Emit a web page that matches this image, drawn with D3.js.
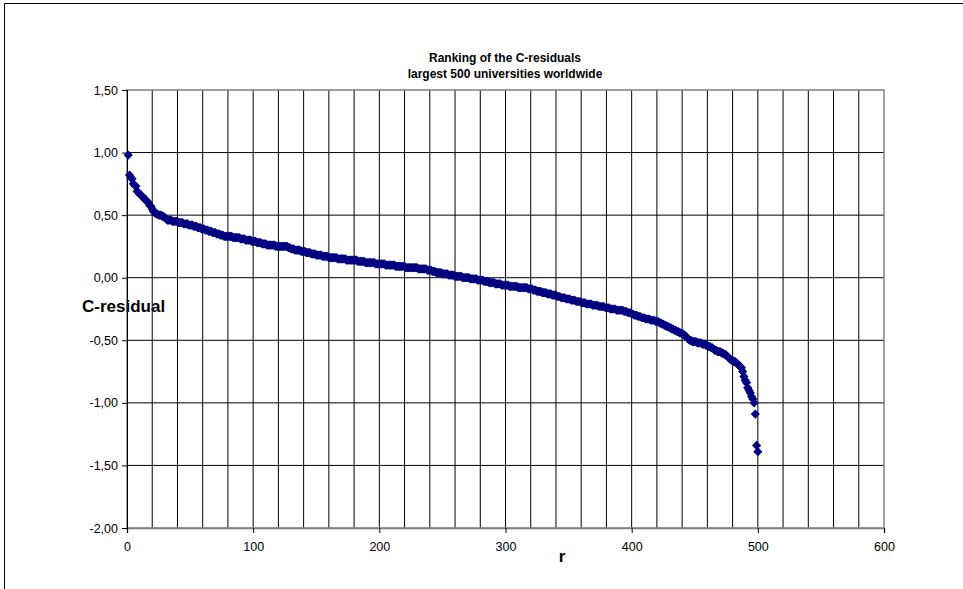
<!DOCTYPE html>
<html>
<head>
<meta charset="utf-8">
<script src="https://cdn.jsdelivr.net/npm/d3@7"></script>
<style>
  body { margin: 0; background: #fff; }
  text { font-family: Arial, "Liberation Sans", sans-serif; }
</style>
</head>
<body>
<div id="chart"></div>
<script>
// chart texts
var titleLines = ["Ranking of the C-residuals", "largest 500 universities worldwide"];
var xLabel = "r";
var yLabel = "C-residual";

// tick values
var xTicks = [0, 100, 200, 300, 400, 500, 600];
var yTicks = [-2, -1.5, -1, -0.5, 0, 0.5, 1, 1.5];

// C-residual for rank r = 1..500
var residuals = [
  0.98, 0.82, 0.80, 0.79, 0.75, 0.74, 0.73, 0.69, 0.68, 0.67, 0.66, 0.65, 0.64, 0.63, 0.62, 0.61, 0.60, 0.58, 0.57, 0.55,
  0.53, 0.52, 0.51, 0.51, 0.50, 0.50, 0.50, 0.49, 0.49, 0.48, 0.47, 0.46, 0.46, 0.46, 0.46, 0.45, 0.45, 0.45, 0.45, 0.45,
  0.44, 0.44, 0.44, 0.44, 0.43, 0.43, 0.43, 0.43, 0.42, 0.42, 0.42, 0.42, 0.41, 0.41, 0.41, 0.40, 0.40, 0.40, 0.39, 0.39,
  0.39, 0.38, 0.38, 0.38, 0.37, 0.37, 0.37, 0.36, 0.36, 0.36, 0.35, 0.35, 0.35, 0.34, 0.34, 0.34, 0.33, 0.33, 0.33, 0.33,
  0.33, 0.33, 0.33, 0.32, 0.32, 0.32, 0.32, 0.32, 0.32, 0.31, 0.31, 0.31, 0.31, 0.30, 0.30, 0.30, 0.30, 0.30, 0.29, 0.29,
  0.29, 0.29, 0.28, 0.28, 0.28, 0.28, 0.27, 0.27, 0.27, 0.27, 0.26, 0.26, 0.26, 0.26, 0.26, 0.26, 0.26, 0.25, 0.25, 0.25,
  0.25, 0.25, 0.25, 0.25, 0.25, 0.25, 0.25, 0.24, 0.24, 0.23, 0.23, 0.23, 0.22, 0.22, 0.22, 0.22, 0.22, 0.21, 0.21, 0.21,
  0.21, 0.20, 0.20, 0.20, 0.20, 0.19, 0.19, 0.19, 0.19, 0.18, 0.18, 0.18, 0.18, 0.18, 0.17, 0.17, 0.17, 0.17, 0.17, 0.16,
  0.16, 0.16, 0.16, 0.16, 0.16, 0.16, 0.15, 0.15, 0.15, 0.15, 0.15, 0.15, 0.15, 0.14, 0.14, 0.14, 0.14, 0.14, 0.14, 0.14,
  0.14, 0.14, 0.13, 0.13, 0.13, 0.13, 0.13, 0.13, 0.12, 0.12, 0.12, 0.12, 0.12, 0.12, 0.12, 0.12, 0.11, 0.11, 0.11, 0.11,
  0.11, 0.11, 0.11, 0.11, 0.10, 0.10, 0.10, 0.10, 0.10, 0.10, 0.10, 0.10, 0.09, 0.09, 0.09, 0.09, 0.09, 0.09, 0.09, 0.09,
  0.08, 0.08, 0.08, 0.08, 0.08, 0.08, 0.08, 0.08, 0.08, 0.08, 0.07, 0.07, 0.07, 0.07, 0.07, 0.07, 0.07, 0.06, 0.06, 0.06,
  0.06, 0.05, 0.05, 0.05, 0.04, 0.04, 0.04, 0.04, 0.04, 0.03, 0.03, 0.03, 0.03, 0.03, 0.02, 0.02, 0.02, 0.02, 0.02, 0.01,
  0.01, 0.01, 0.01, 0.01, 0.01, 0.00, 0.00, 0.00, 0.00, 0.00, 0.00, -0.01, -0.01, -0.01, -0.01, -0.01, -0.01, -0.02, -0.02, -0.02,
  -0.02, -0.02, -0.03, -0.03, -0.03, -0.03, -0.04, -0.04, -0.04, -0.04, -0.04, -0.05, -0.05, -0.05, -0.05, -0.05, -0.06, -0.06, -0.06, -0.06,
  -0.06, -0.06, -0.07, -0.07, -0.07, -0.07, -0.07, -0.07, -0.07, -0.08, -0.08, -0.08, -0.08, -0.08, -0.08, -0.08, -0.08, -0.09, -0.09, -0.09,
  -0.09, -0.10, -0.10, -0.10, -0.11, -0.11, -0.11, -0.11, -0.12, -0.12, -0.12, -0.12, -0.13, -0.13, -0.13, -0.13, -0.14, -0.14, -0.14, -0.14,
  -0.15, -0.15, -0.15, -0.16, -0.16, -0.16, -0.16, -0.17, -0.17, -0.17, -0.17, -0.18, -0.18, -0.18, -0.18, -0.19, -0.19, -0.19, -0.19, -0.20,
  -0.20, -0.20, -0.20, -0.21, -0.21, -0.21, -0.21, -0.21, -0.22, -0.22, -0.22, -0.22, -0.22, -0.23, -0.23, -0.23, -0.23, -0.23, -0.24, -0.24,
  -0.24, -0.24, -0.25, -0.25, -0.25, -0.25, -0.25, -0.26, -0.26, -0.26, -0.26, -0.26, -0.26, -0.27, -0.27, -0.27, -0.28, -0.28, -0.28, -0.29,
  -0.29, -0.30, -0.30, -0.30, -0.31, -0.31, -0.31, -0.32, -0.32, -0.32, -0.33, -0.33, -0.33, -0.33, -0.34, -0.34, -0.34, -0.34, -0.35, -0.35,
  -0.35, -0.36, -0.36, -0.37, -0.37, -0.38, -0.38, -0.39, -0.39, -0.40, -0.40, -0.41, -0.41, -0.42, -0.42, -0.43, -0.43, -0.44, -0.44, -0.45,
  -0.45, -0.46, -0.47, -0.48, -0.49, -0.50, -0.50, -0.51, -0.51, -0.51, -0.51, -0.52, -0.52, -0.52, -0.52, -0.53, -0.53, -0.53, -0.54, -0.54,
  -0.55, -0.55, -0.56, -0.56, -0.57, -0.58, -0.58, -0.59, -0.59, -0.59, -0.60, -0.60, -0.61, -0.61, -0.62, -0.63, -0.64, -0.65, -0.66, -0.66,
  -0.67, -0.67, -0.68, -0.69, -0.70, -0.71, -0.72, -0.75, -0.79, -0.82, -0.84, -0.88, -0.90, -0.92, -0.95, -0.97, -1.00, -1.09, -1.34, -1.39
];

// size and margins, plot area is 127..884 x 90..528
var W = 963, H = 589;
var margin = {top: 90, right: 79, bottom: 61, left: 127},
    width = W - margin.left - margin.right,
    height = H - margin.top - margin.bottom;

var svg = d3.select("#chart").append("svg")
    .attr("width", W)
    .attr("height", H);

// outer chart frame (cut by the picture on the right and bottom)
svg.append("path")
    .attr("d", "M4.5," + H + "V3.5H" + W)
    .attr("fill", "none")
    .attr("stroke", "#000")
    .attr("stroke-width", 1);

var g = svg.append("g")
    .attr("transform", "translate(" + margin.left + "," + margin.top + ")");

var x = d3.scaleLinear().domain([0, 600]).range([0, width]);
var y = d3.scaleLinear().domain([-2, 1.5]).range([height, 0]);

var fmt = function(d) { return d3.format(".2f")(d).replace(".", ",").replace("\u2212", "-"); };

// y axis label sits under the grid lines
svg.append("text")
    .attr("x", 82)
    .attr("y", 312)
    .style("font-size", "17px")
    .style("font-weight", "bold")
    .text(yLabel);

// grid
g.append("g")
    .selectAll("line")
    .data(d3.range(20, 600, 20))
    .enter().append("line")
    .attr("x1", function(d) { return x(d); })
    .attr("x2", function(d) { return x(d); })
    .attr("y1", 0)
    .attr("y2", height)
    .attr("stroke", "#000")
    .attr("stroke-width", 1);

g.append("g")
    .selectAll("line")
    .data(yTicks.slice(1, -1))
    .enter().append("line")
    .attr("x1", 0)
    .attr("x2", width)
    .attr("y1", function(d) { return y(d); })
    .attr("y2", function(d) { return y(d); })
    .attr("stroke", "#000")
    .attr("stroke-width", 1);

// plot area border
g.append("rect")
    .attr("width", width)
    .attr("height", height)
    .attr("fill", "none")
    .attr("stroke", "#808080")
    .attr("stroke-width", 1.5);

// axes
var xAxis = g.append("g")
    .attr("transform", "translate(0," + height + ")")
    .call(d3.axisBottom(x).tickValues(xTicks).tickSize(5).tickPadding(9));
var yAxis = g.append("g")
    .call(d3.axisLeft(y).tickValues(yTicks).tickFormat(fmt).tickSize(5).tickPadding(4));

[xAxis, yAxis].forEach(function(a) {
    a.selectAll("text")
        .style("font-size", "12.5px")
        .style("font-family", "Arial, 'Liberation Sans', sans-serif")
        .attr("fill", "#000");
    a.selectAll("line").attr("stroke", "#000");
});
xAxis.select(".domain").attr("stroke", "#808080").attr("stroke-width", 1.5);
yAxis.select(".domain").attr("stroke", "#000");

// diamond markers
var diamond = {
    draw: function(ctx, size) {
        var r = Math.sqrt(size) / 2;
        ctx.moveTo(0, -r);
        ctx.lineTo(r, 0);
        ctx.lineTo(0, r);
        ctx.lineTo(-r, 0);
        ctx.closePath();
    }
};

g.append("g")
    .selectAll("path")
    .data(residuals)
    .enter().append("path")
    .attr("transform", function(d, i) { return "translate(" + x(i + 1) + "," + y(d) + ")"; })
    .attr("d", d3.symbol().type(diamond).size(85))
    .attr("fill", "#000080");

// title
svg.append("g")
    .selectAll("text")
    .data(titleLines)
    .enter().append("text")
    .attr("x", 505)
    .attr("y", function(d, i) { return 62 + i * 16; })
    .attr("text-anchor", "middle")
    .style("font-size", "12px")
    .style("font-weight", "bold")
    .text(function(d) { return d; });

// x axis label
svg.append("text")
    .attr("x", 562)
    .attr("y", 562)
    .attr("text-anchor", "middle")
    .style("font-size", "17px")
    .style("font-weight", "bold")
    .text(xLabel);
</script>
</body>
</html>
